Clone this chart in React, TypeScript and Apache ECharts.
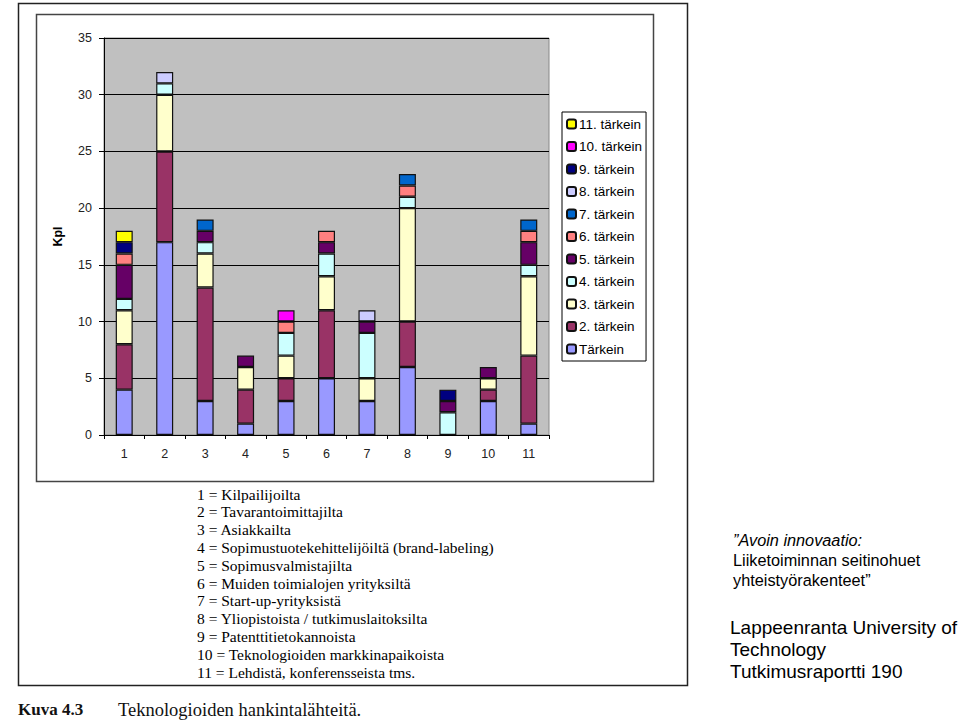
import React, { useEffect, useRef } from "react";
import * as echarts from "echarts";

const categories = ["1", "2", "3", "4", "5", "6", "7", "8", "9", "10", "11"];
const seriesNames = [
  "Tärkein", "2. tärkein", "3. tärkein", "4. tärkein", "5. tärkein", "6. tärkein",
  "7. tärkein", "8. tärkein", "9. tärkein", "10. tärkein", "11. tärkein",
];
const seriesColors = [
  "#9999FF", "#993366", "#FFFFCC", "#CCFFFF", "#660066", "#FF8080",
  "#0066CC", "#CCCCFF", "#000080", "#FF00FF", "#FFFF00",
];
const tarkein1 = [4, 17, 3, 1, 3, 5, 3, 6, 0, 3, 1];
const tarkein2 = [4, 8, 10, 3, 2, 6, 0, 4, 0, 1, 6];
const tarkein3 = [3, 5, 3, 2, 2, 3, 2, 10, 0, 1, 7];
const tarkein4 = [1, 1, 1, 0, 2, 2, 4, 1, 2, 0, 1];
const tarkein5 = [3, 0, 1, 1, 0, 1, 1, 0, 1, 1, 2];
const tarkein6 = [1, 0, 0, 0, 1, 1, 0, 1, 0, 0, 1];
const tarkein7 = [0, 0, 1, 0, 0, 0, 0, 1, 0, 0, 1];
const tarkein8 = [0, 1, 0, 0, 0, 0, 1, 0, 0, 0, 0];
const tarkein9 = [1, 0, 0, 0, 0, 0, 0, 0, 1, 0, 0];
const tarkein10 = [0, 0, 0, 0, 1, 0, 0, 0, 0, 0, 0];
const tarkein11 = [1, 0, 0, 0, 0, 0, 0, 0, 0, 0, 0];
const seriesValues = [
  tarkein1, tarkein2, tarkein3, tarkein4, tarkein5, tarkein6,
  tarkein7, tarkein8, tarkein9, tarkein10, tarkein11,
];
const descriptionLines = [
  "1 = Kilpailijoilta",
  "2 = Tavarantoimittajilta",
  "3 = Asiakkailta",
  "4 = Sopimustuotekehittelijöiltä (brand-labeling)",
  "5 = Sopimusvalmistajilta",
  "6 = Muiden toimialojen yrityksiltä",
  "7 = Start-up-yrityksistä",
  "8 = Yliopistoista / tutkimuslaitoksilta",
  "9 = Patenttitietokannoista",
  "10 = Teknologioiden markkinapaikoista",
  "11 = Lehdistä, konferensseista tms.",
];

export default function App() {
  const ref = useRef<HTMLDivElement>(null);
  useEffect(() => {
    if (!ref.current) return;
    const chart = echarts.init(ref.current, undefined, { renderer: "svg" });
    const series = seriesNames.map((name, i) => ({
      name,
      type: "bar" as const,
      stack: "total",
      barWidth: 17,
      data: seriesValues[i].map((v) => (v === 0 ? null : v)),
      itemStyle: { color: seriesColors[i], borderColor: "#111", borderWidth: 1.2 },
    }));
    const descTexts = descriptionLines.map((line, i) => ({
      type: "text" as const,
      left: 197,
      top: 486 + i * 17.8,
      style: { text: line, font: "15.5px 'Liberation Serif', serif", fill: "#000" },
    }));
    chart.setOption({
      animation: false,
      backgroundColor: "#fff",
      grid: {
        left: 104,
        top: 38,
        width: 445,
        height: 397,
        show: true,
        backgroundColor: "#C0C0C0",
        borderColor: "#888",
        borderWidth: 1,
      },
      legend: {
        orient: "vertical",
        left: 562,
        top: 112,
        padding: [5, 4, 5, 4],
        backgroundColor: "#fff",
        borderColor: "#000",
        borderWidth: 1,
        itemWidth: 9,
        itemHeight: 9,
        itemGap: 8.5,
        data: [...seriesNames].reverse(),
        textStyle: { fontFamily: "'Liberation Sans', Arial, sans-serif", fontSize: 13.5, color: "#000", padding: [0, 0, 0, -2] },
      },
      xAxis: {
        type: "category",
        data: categories,
        axisLine: { lineStyle: { color: "#000", width: 1 } },
        axisTick: { show: true, alignWithLabel: false, length: 4, lineStyle: { color: "#000" } },
        axisLabel: { fontFamily: "'Liberation Sans', Arial, sans-serif", fontSize: 12.5, color: "#222", margin: 12 },
      },
      yAxis: {
        type: "value",
        min: 0,
        max: 35,
        interval: 5,
        name: "Kpl",
        nameLocation: "middle",
        nameGap: 40,
        nameTextStyle: { fontFamily: "'Liberation Sans', Arial, sans-serif", fontSize: 12.5, fontWeight: "bold", color: "#000" },
        axisLine: { show: true, lineStyle: { color: "#000", width: 1 } },
        axisTick: { show: true, length: 5, lineStyle: { color: "#000" } },
        axisLabel: { fontFamily: "'Liberation Sans', Arial, sans-serif", fontSize: 12.5, color: "#222", margin: 12 },
        splitLine: { show: true, lineStyle: { color: "#000", width: 1 } },
      },
      graphic: [
        { type: "rect", shape: { x: 18.5, y: 3.5, width: 669, height: 682 }, style: { fill: "none", stroke: "#222", lineWidth: 1.5 }, z: -1 },
        { type: "rect", shape: { x: 36.5, y: 14.5, width: 617, height: 467 }, style: { fill: "none", stroke: "#444", lineWidth: 1.5 }, z: -1 },
        ...descTexts,
        {
          type: "text", left: 18, top: 701,
          style: { text: "Kuva 4.3", font: "bold 17px 'Liberation Serif', serif", fill: "#111" },
        },
        {
          type: "text", left: 118, top: 700,
          style: { text: "Teknologioiden hankintalähteitä.", font: "18.5px 'Liberation Serif', serif", fill: "#111" },
        },
        {
          type: "text", left: 733, top: 532,
          style: { text: "\u201DAvoin innovaatio:", font: "italic 16.3px 'Liberation Sans', Arial, sans-serif", fill: "#000" },
        },
        {
          type: "text", left: 733, top: 552,
          style: { text: "Liiketoiminnan seitinohuet", font: "16.3px 'Liberation Sans', Arial, sans-serif", fill: "#000" },
        },
        {
          type: "text", left: 733, top: 572,
          style: { text: "yhteistyörakenteet\u201D", font: "16.3px 'Liberation Sans', Arial, sans-serif", fill: "#000" },
        },
        {
          type: "text", left: 730, top: 616,
          style: {
            text: "Lappeenranta University of\nTechnology\nTutkimusraportti 190",
            font: "19px 'Liberation Sans', Arial, sans-serif",
            lineHeight: 22,
            fill: "#000",
          },
        },
      ],
      series,
    });
    return () => chart.dispose();
  }, []);
  return (
    <div
      ref={ref}
      style={{ position: "absolute", left: 0, top: 0, width: 960, height: 726 }}
    />
  );
}
